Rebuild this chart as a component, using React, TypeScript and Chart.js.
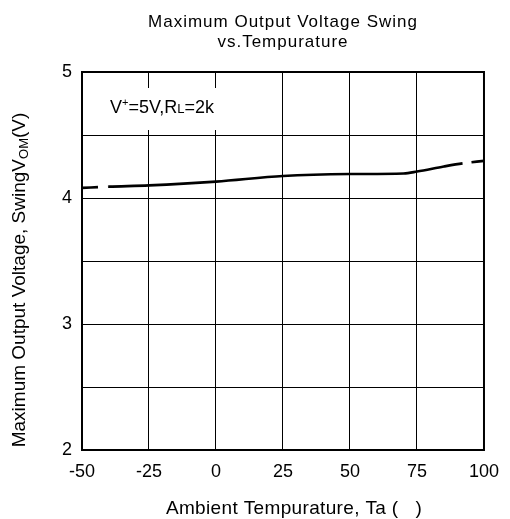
import React, { useEffect, useRef } from 'react';
import { Chart, registerables } from 'chart.js';

Chart.register(...registerables);

const temps = [-50, -40, -25, 0, 25, 50, 70, 75, 85, 92, 100];
const voltages = [4.08, 4.09, 4.1, 4.13, 4.175, 4.19, 4.195, 4.21, 4.25, 4.275, 4.295];
const xTickStep = 25;
const yGridStep = 0.5;
const titleLines = ['Maximum Output Voltage Swing', 'vs.Tempurature'];
const xTitle = 'Ambient Tempurature, Ta (   )';
const yTitleParts = ['Maximum Output Voltage, SwingV', 'OM', '(V)'];
const noteParts = ['V', '+', '=5V,R', 'L', '=2k'];

const FONT = "'Liberation Sans', Arial, Helvetica, sans-serif";

const decorPlugin = {
  id: 'decor',
  afterDraw(chart: any) {
    const ctx = chart.ctx as any;
    const { left, right, top, bottom } = chart.chartArea;
    ctx.save();
    // frame
    ctx.strokeStyle = '#000';
    ctx.lineWidth = 2;
    ctx.strokeRect(left, top, right - left, bottom - top);

    ctx.fillStyle = '#000';
    ctx.textBaseline = 'alphabetic';

    // title
    ctx.font = `17px ${FONT}`;
    ctx.letterSpacing = '1px';
    ctx.textAlign = 'center';
    const cx = (left + right) / 2;
    ctx.fillText(titleLines[0], cx, 27);
    ctx.fillText(titleLines[1], cx, 47);

    // x title
    ctx.font = `19px ${FONT}`;
    ctx.letterSpacing = '0.35px';
    ctx.fillText(xTitle, 294, 514);
    ctx.letterSpacing = '0px';

    // y title with subscript
    ctx.textAlign = 'left';
    const big = `19px ${FONT}`;
    const small = `13px ${FONT}`;
    ctx.font = big;
    const w0 = ctx.measureText(yTitleParts[0]).width;
    const w2 = ctx.measureText(yTitleParts[2]).width;
    ctx.font = small;
    const w1 = ctx.measureText(yTitleParts[1]).width;
    const total = w0 + w1 + w2;
    ctx.translate(25, 280);
    ctx.rotate(-Math.PI / 2);
    ctx.font = big;
    ctx.fillText(yTitleParts[0], -total / 2, 0);
    ctx.font = small;
    ctx.fillText(yTitleParts[1], -total / 2 + w0, 3);
    ctx.font = big;
    ctx.fillText(yTitleParts[2], -total / 2 + w0 + w1, 0);
    ctx.setTransform(1, 0, 0, 1, 0, 0);

    // annotation box
    ctx.fillStyle = '#fff';
    ctx.fillRect(96, 88, 126, 42);
    ctx.fillStyle = '#000';
    let x = 110;
    const base = 113;
    ctx.font = `18px ${FONT}`;
    ctx.fillText(noteParts[0], x, base);
    x += ctx.measureText(noteParts[0]).width;
    ctx.font = `11px ${FONT}`;
    ctx.fillText(noteParts[1], x, base - 7);
    x += ctx.measureText(noteParts[1]).width;
    ctx.font = `18px ${FONT}`;
    ctx.fillText(noteParts[2], x, base);
    x += ctx.measureText(noteParts[2]).width;
    ctx.font = `13px ${FONT}`;
    ctx.fillText(noteParts[3], x, base);
    x += ctx.measureText(noteParts[3]).width;
    ctx.font = `18px ${FONT}`;
    ctx.fillText(noteParts[4], x, base);
    ctx.restore();
  },
};

export default function App() {
  const ref = useRef<HTMLCanvasElement>(null);
  useEffect(() => {
    document.body.style.margin = '0';
    const last = temps.length - 1;
    const chart = new Chart(ref.current as HTMLCanvasElement, {
      type: 'line',
      data: {
        datasets: [
          {
            data: temps.map((t, i) => ({ x: t, y: voltages[i] })),
            borderColor: '#000',
            borderWidth: 2.6,
            pointRadius: 0,
            cubicInterpolationMode: 'monotone',
            fill: false,
            segment: {
              borderDash: (c: any) =>
                c.p0DataIndex === 0 ? [16, 10] : c.p1DataIndex === last ? [13, 9] : undefined,
              borderDashOffset: (c: any) => (c.p1DataIndex === last ? 13 : undefined),
            },
          } as any,
        ],
      },
      options: {
        responsive: false,
        animation: false,
        layout: { padding: { top: 72, right: 24, left: 0, bottom: 0 } },
        plugins: { legend: { display: false }, tooltip: { enabled: false }, title: { display: false } },
        scales: {
          x: {
            type: 'linear',
            min: -50,
            max: 100,
            afterFit: (s: any) => {
              s.height = 69;
            },
            ticks: {
              stepSize: xTickStep,
              color: '#000',
              font: { family: FONT, size: 18 },
              padding: 11,
              maxRotation: 0,
            },
            grid: { color: '#000', lineWidth: 1, drawTicks: false },
            border: { color: '#000', width: 2 },
          },
          y: {
            type: 'linear',
            min: 2,
            max: 5,
            afterFit: (s: any) => {
              s.width = 82;
            },
            ticks: {
              stepSize: yGridStep,
              color: '#000',
              font: { family: FONT, size: 18 },
              padding: 10,
              callback: (v: any) => (Number.isInteger(v) ? String(v) : ''),
            },
            grid: { color: '#000', lineWidth: 1, drawTicks: false },
            border: { color: '#000', width: 2 },
          },
        },
      },
      plugins: [decorPlugin],
    });
    return () => chart.destroy();
  }, []);
  return (
    <div style={{ width: 510, height: 519 }}>
      <canvas ref={ref} width={510} height={519} />
    </div>
  );
}
